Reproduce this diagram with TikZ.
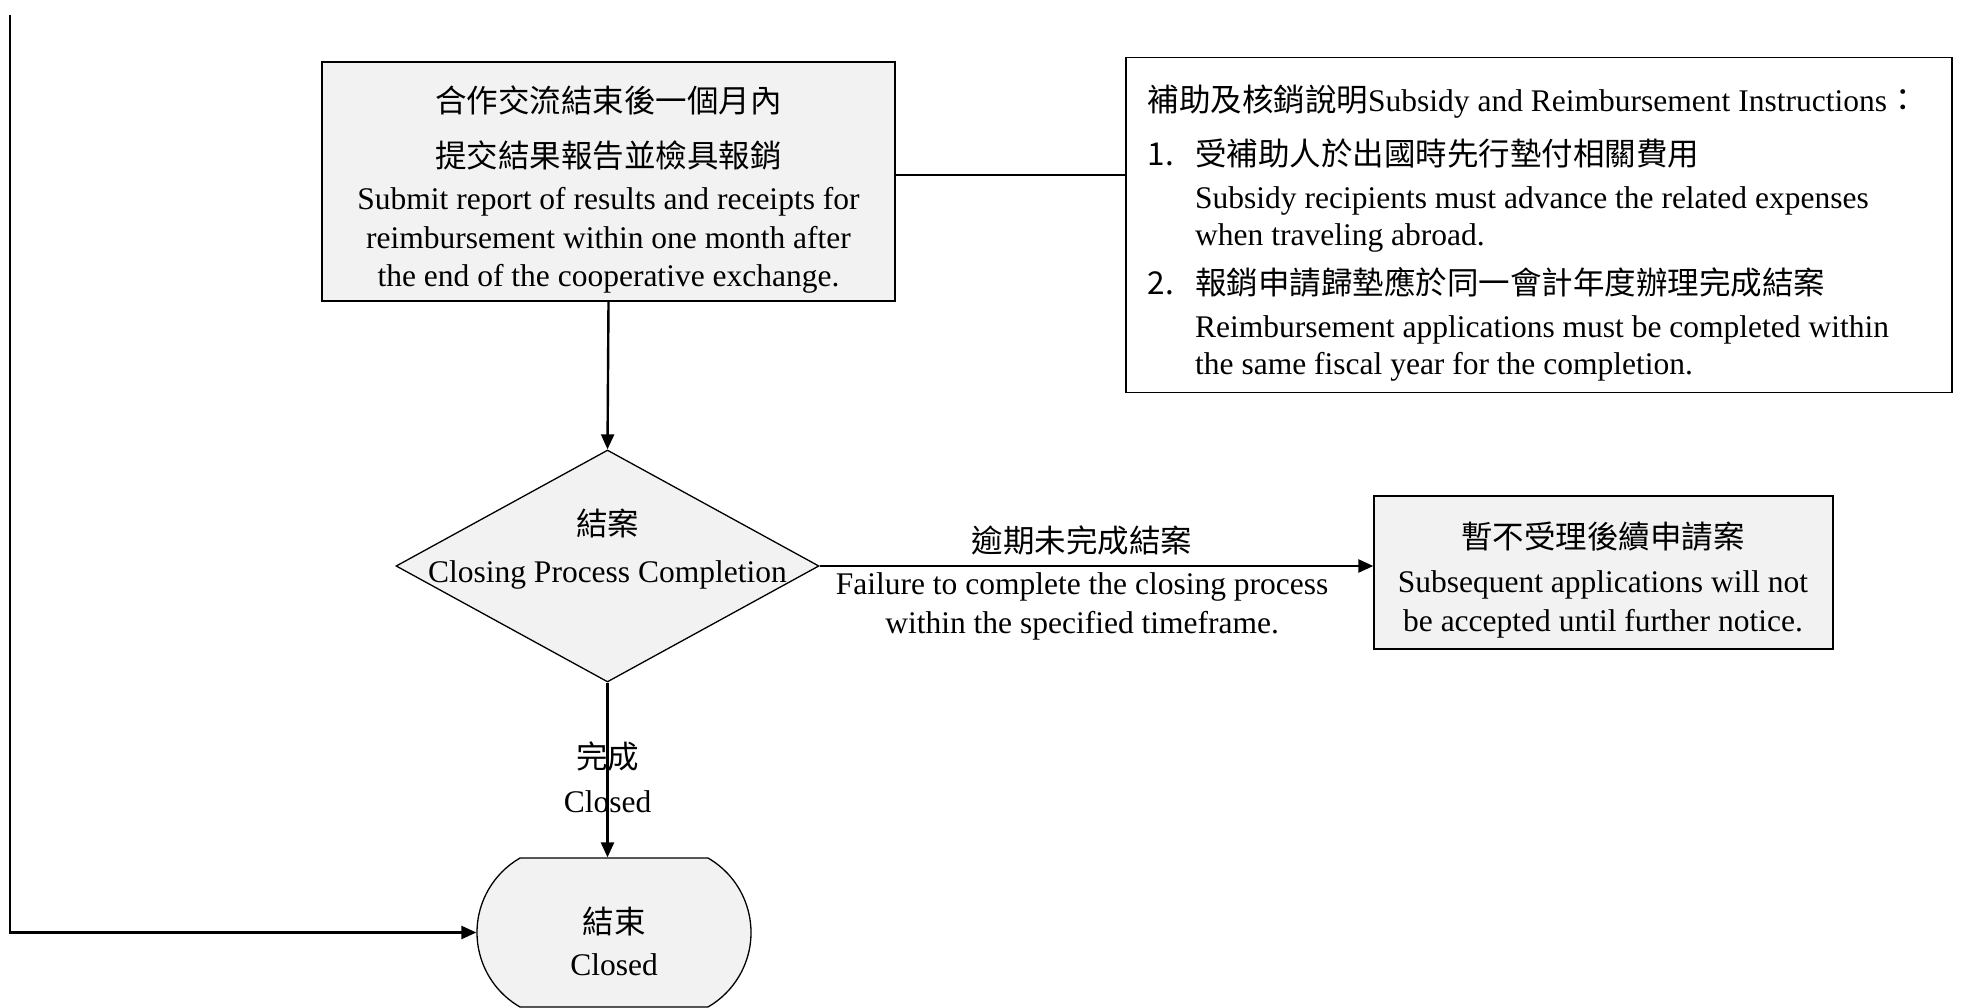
\documentclass[tikz,border=0pt]{standalone}
\usepackage{fontspec}
\setmainfont{Liberation Serif}
\newfontfamily\cjk{Noto Sans CJK TC}
\usetikzlibrary{shapes.geometric,shapes.misc,arrows.meta,calc}
\definecolor{boxgray}{HTML}{F2F2F2}
\begin{document}
\begin{tikzpicture}[x=1pt,y=1pt,
  box/.style={draw=black, line width=1.3pt, fill=boxgray, inner sep=0pt},
  plainbox/.style={draw=black, line width=1.3pt, fill=white, inner sep=0pt},
  txt/.style={inner sep=0pt, font=\fontsize{31.5}{38.5}\selectfont, align=center, anchor=base},
  conn/.style={line width=2.4pt, -{Triangle[length=15pt,width=13pt]}},
  thinline/.style={line width=1.3pt}]
\useasboundingbox (0,0) rectangle (1961,-1008);

% shapes
\node[box, minimum width=573pt, minimum height=239pt] (submit) at (608.5,-181.5) {};
\node[plainbox, minimum width=826pt, minimum height=335pt] (notes) at (1539,-225) {};
\node[box, diamond, minimum width=423pt, minimum height=232pt] (dia) at (607.5,-566) {};
\node[box, minimum width=459pt, minimum height=153pt] (fail) at (1603.5,-572.5) {};
\node[box, rounded rectangle, rounded rectangle arc length=120, minimum width=274pt, minimum height=149pt] (endnode) at (614,-932.5) {};

% texts (anchor base = baseline of the last line)
\node[txt] (submittxt) at (608.5,-287) {{\cjk 合作交流結束後一個月內}\\[16.5pt]{\cjk 提交結果報告並檢具報銷}\\[3.5pt]Submit report of results and receipts for\\reimbursement within one month after\\the end of the cooperative exchange.};
\node[txt, align=left, anchor=base west, font=\fontsize{31.5}{37}\selectfont] (notestxt) at (1147.5,-374) {{\cjk 補助及核銷說明}Subsidy and Reimbursement Instructions{\cjk ：}\\[17pt]
\makebox[47.5pt][l]{\cjk 1.}{\cjk 受補助人於出國時先行墊付相關費用}\\[6pt]
\hspace*{47.5pt}Subsidy recipients must advance the related expenses\\
\hspace*{47.5pt}when traveling abroad.\\[12pt]
\makebox[47.5pt][l]{\cjk 2.}{\cjk 報銷申請歸墊應於同一會計年度辦理完成結案}\\[6pt]
\hspace*{47.5pt}Reimbursement applications must be completed within\\
\hspace*{47.5pt}the same fiscal year for the completion.};
\node[txt, font=\fontsize{31.5}{39}\selectfont] (diatxt) at (607.5,-582) {{\cjk 結案}\\[8pt]Closing Process Completion};
\node[txt, font=\fontsize{31.5}{39}\selectfont] (failtxt) at (1603,-631) {{\cjk 暫不受理後續申請案}\\[5pt]Subsequent applications will not\\be accepted until further notice.};
\node[txt] (endtxt) at (614,-975) {{\cjk 結束}\\[3.5pt]Closed};

% connectors
\draw[thinline] ([yshift=6.5pt]submit.east) coordinate (c1) -- (c1 -| notes.west);
\draw[conn] (submit.south) -- (dia.north);
\draw[conn] (dia.east) -- node[txt, pos=.474, yshift=14pt] (overduelbl) {\cjk 逾期未完成結案}
  node[txt, pos=.474, yshift=-67pt] (failurelbl) {Failure to complete the closing process\\within the specified timeframe.} (dia.east -| fail.west);
\draw[conn] (dia.south) -- node[txt, pos=.5, yshift=-42pt] (donelbl) {{\cjk 完成}\\[5.5pt]Closed} (dia.south |- endnode.north);
\coordinate (loopstart) at (10,-15);
\draw[conn] (loopstart) |- (endnode.west);
\end{tikzpicture}
\end{document}
